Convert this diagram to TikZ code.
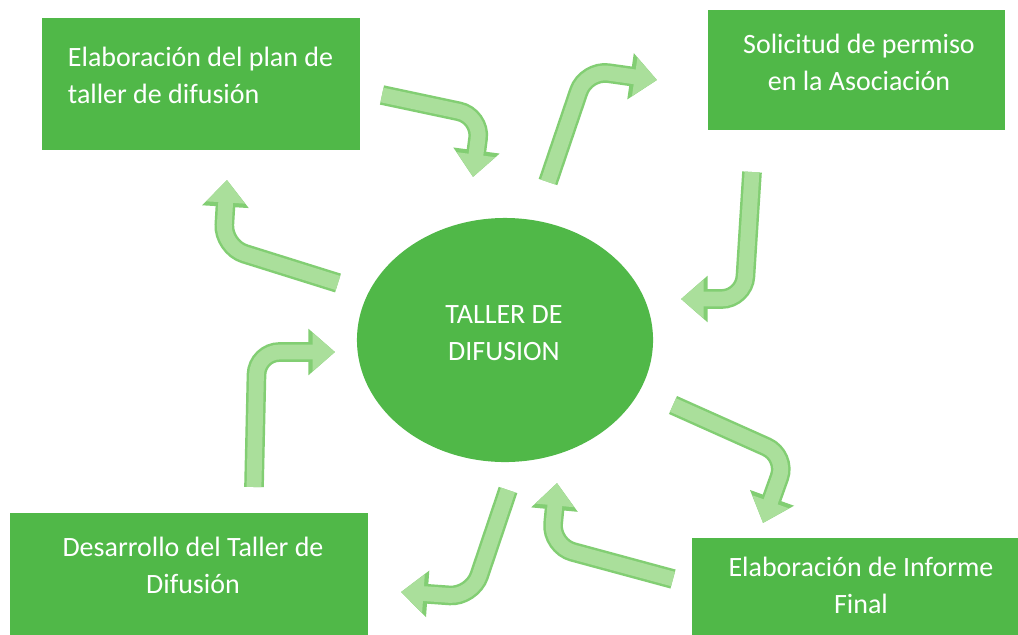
\documentclass[tikz,border=0pt]{standalone}
\usepackage{fontspec}
\setmainfont{Carlito}
\usetikzlibrary{arrows.meta,shapes.geometric}

\definecolor{boxgreen}{RGB}{80,184,72}
\definecolor{arrowfill}{RGB}{170,223,155}
\definecolor{arrowedge}{RGB}{130,206,115}

\tikzset{
  box/.style={fill=boxgreen, inner sep=0pt, anchor=north west},
  boxtext/.style={text=white, font=\fontsize{19.9}{26.3}\selectfont, align=center},
  bentedge/.style={draw=arrowedge, line width=14pt, rounded corners=16pt,
    -{Triangle[length=19pt, width=32pt]}},
  bentfill/.style={draw=arrowfill, line width=10.5pt, rounded corners=16pt,
    -{Triangle[length=16pt, width=26.5pt]}},
}
\newcommand{\bentarrow}[1]{%
  \draw[bentedge] #1;
  \draw[bentfill] #1;}

\begin{document}
\begin{tikzpicture}[x=0.025cm, y=-0.025cm]
  \useasboundingbox[fill=white] (0,0) rectangle (1018,634);

  %%% boxes
  \node[box, minimum width=7.95cm, minimum height=3.3cm] (plan) at (42,18) {};
  \node[box, minimum width=7.425cm, minimum height=3cm] (permiso) at (708,10) {};
  \node[box, minimum width=8.95cm, minimum height=3.6cm] (desarrollo) at (10,513) {};
  \node[box, minimum width=8.2cm, minimum height=3.6cm] (informe) at (692,538) {};

  %%% centre
  \node[ellipse, fill=boxgreen, minimum width=7.4cm, minimum height=6.1cm] (taller) at (505,340) {};

  %%% texts
  \node[boxtext, align=left, anchor=west] (plantxt) at (63,75) {Elaboración del plan de\\taller de difusión};
  \node[boxtext] (permisotxt) at (859,62) {Solicitud de permiso\\en la Asociación};
  \node[boxtext] (desarrollotxt) at (193,565) {Desarrollo del Taller de\\Difusión};
  \node[boxtext] (informetxt) at (861,585) {Elaboración de Informe\\Final};
  \node[boxtext] (tallertxt) at (504,333) {TALLER DE\\DIFUSION};

  %%% bent arrows
  \bentarrow{(382,95) -- (481,116) -- (473,177)}
  \bentarrow{(548,182) -- (586,70) -- (657,80)}
  \bentarrow{(752,172) -- (744,299) -- (681,299)}
  \bentarrow{(338,283) -- (223,247) -- (227,180)}
  \bentarrow{(254,487) -- (257,352) -- (335,352)}
  \bentarrow{(673,405) -- (787,456) -- (763,523)}
  \bentarrow{(508,490) -- (472,597) -- (401,592)}
  \bentarrow{(673,579) -- (551,546) -- (557,483)}
\end{tikzpicture}
\end{document}
